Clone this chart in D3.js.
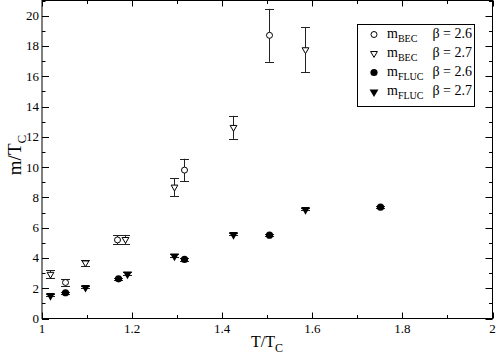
<!DOCTYPE html>
<html><head><meta charset="utf-8">
<script src="https://cdn.jsdelivr.net/npm/d3@7"></script>
<style>body{margin:0;background:#fff}svg{display:block}</style>
</head><body>
<svg id="c" width="498" height="355" font-family="'Liberation Serif','Times New Roman','DejaVu Serif',serif"></svg>
<script>
const becT26 = [1.052, 1.167, 1.315, 1.504];
const becM26 = [2.38, 5.19, 9.8, 18.7];
const becE26 = [0.22, 0.3, 0.75, 1.75];
const becT27 = [1.018, 1.096, 1.184, 1.294, 1.425, 1.584];
const becM27 = [2.92, 3.67, 5.22, 8.68, 12.62, 17.75];
const becE27 = [0.25, 0.18, 0.3, 0.6, 0.76, 1.5];
const flucT26 = [1.052, 1.168, 1.315, 1.504, 1.75];
const flucM26 = [1.7, 2.62, 3.9, 5.5, 7.35];
const flucT27 = [1.018, 1.096, 1.188, 1.294, 1.425, 1.584];
const flucM27 = [1.55, 2.08, 2.97, 4.15, 5.57, 7.22];
const flucE = 0.08;
const xTicks = [1, 1.2, 1.4, 1.6, 1.8, 2];
const xTickLabels = ["1", "1.2", "1.4", "1.6", "1.8", "2"];
const yTicks = [0, 2, 4, 6, 8, 10, 12, 14, 16, 18, 20];
const legendNames = ["BEC", "BEC", "FLUC", "FLUC"];
const legendBetas = ["β = 2.6", "β = 2.7", "β = 2.6", "β = 2.7"];

const svg = d3.select("#c");
const L = 42, R = 492.5, T = 0.5, B = 318.5;
const x = d3.scaleLinear().domain([1, 2]).range([L, R]);
const y = d3.scaleLinear().domain([0, 21]).range([B, T]);

svg.append("rect").attr("x", L).attr("y", T).attr("width", R - L).attr("height", B - T)
  .attr("fill", "none").attr("stroke", "#000").attr("stroke-width", 1);

const tk = svg.append("g").attr("stroke", "#000").attr("stroke-width", 1);
d3.range(1, 2.0001, 0.1).forEach((v, i) => {
  const len = (i % 2 === 0) ? 6 : 3.5;
  const px = Math.round(x(v)) + 0.5;
  tk.append("line").attr("x1", px).attr("x2", px).attr("y1", B).attr("y2", B - len);
  tk.append("line").attr("x1", px).attr("x2", px).attr("y1", T).attr("y2", T + len);
});
d3.range(0, 21.0001, 1).forEach((v, i) => {
  const len = (i % 2 === 0) ? 7 : 3.5;
  const py = Math.round(y(v)) + 0.5;
  tk.append("line").attr("x1", L).attr("x2", L + len).attr("y1", py).attr("y2", py);
  tk.append("line").attr("x1", R).attr("x2", R - len).attr("y1", py).attr("y2", py);
});
svg.append("g").selectAll("text").data(xTicks).join("text")
  .attr("x", d => x(d)).attr("y", 333).attr("text-anchor", "middle").attr("font-size", 13)
  .text((d, i) => xTickLabels[i]);
svg.append("g").selectAll("text").data(yTicks).join("text")
  .attr("x", 39).attr("y", d => y(d) + 4.5).attr("text-anchor", "end").attr("font-size", 13)
  .text(d => d);

const xt = svg.append("text").attr("x", 251).attr("y", 347).attr("font-size", 16);
xt.append("tspan").text("T/T");
xt.append("tspan").attr("font-size", 12).attr("dy", 5).text("C");
const yt = svg.append("text").attr("transform", "translate(21,155) rotate(-90)").attr("text-anchor", "middle").attr("font-size", 19);
yt.append("tspan").text("m/T");
yt.append("tspan").attr("font-size", 13).attr("dy", 5).text("C");

const tri = d3.symbol().type(d3.symbolTriangle);
function marker(g, kind, cx, cy) {
  if (kind === "oc") g.append("circle").attr("cx", cx).attr("cy", cy).attr("r", 3).attr("fill", "#fff").attr("stroke", "#000").attr("stroke-width", 1);
  if (kind === "fc") g.append("circle").attr("cx", cx).attr("cy", cy).attr("r", 3.6).attr("fill", "#000");
  if (kind === "ot") g.append("path").attr("d", tri.size(20)()).attr("transform", `translate(${cx},${cy}) rotate(180)`).attr("fill", "#fff").attr("stroke", "#000").attr("stroke-width", 1);
  if (kind === "ft") g.append("path").attr("d", tri.size(34)()).attr("transform", `translate(${cx},${cy + 0.5}) rotate(180)`).attr("fill", "#000");
}
function series(ts, ms, es, kind) {
  const g = svg.append("g");
  ts.forEach((t, i) => {
    const cx = x(t), e = Array.isArray(es) ? es[i] : es;
    const y1 = y(ms[i] + e), y2 = y(ms[i] - e);
    const px = Math.round(cx) + 0.5;
    g.append("line").attr("x1", px).attr("x2", px).attr("y1", y1).attr("y2", y2).attr("stroke", "#222");
    [y1, y2].forEach(yy => g.append("line").attr("x1", px - 4.5).attr("x2", px + 4.5)
      .attr("y1", Math.round(yy) + 0.5).attr("y2", Math.round(yy) + 0.5).attr("stroke", "#222"));
    marker(g, kind, px, y(ms[i]));
  });
}
series(becT26, becM26, becE26, "oc");
series(becT27, becM27, becE27, "ot");
series(flucT26, flucM26, flucE, "fc");
series(flucT27, flucM27, flucE, "ft");

svg.append("rect").attr("x", 357.5).attr("y", 24.5).attr("width", 117).attr("height", 82)
  .attr("fill", "#fff").attr("stroke", "#000");
const kinds = ["oc", "ot", "fc", "ft"];
const lg = svg.append("g");
kinds.forEach((k, i) => {
  const cy = 34.5 + i * 19;
  marker(lg, k, 374, cy);
  const t = lg.append("text").attr("x", 387).attr("y", cy + 3).attr("font-size", 14);
  t.append("tspan").text("m");
  t.append("tspan").attr("font-size", 10).attr("dy", 4).text(legendNames[i]);
  lg.append("text").attr("x", 472).attr("y", cy + 3).attr("text-anchor", "end").attr("font-size", 14).text(legendBetas[i]);
});
</script>
</body></html>
